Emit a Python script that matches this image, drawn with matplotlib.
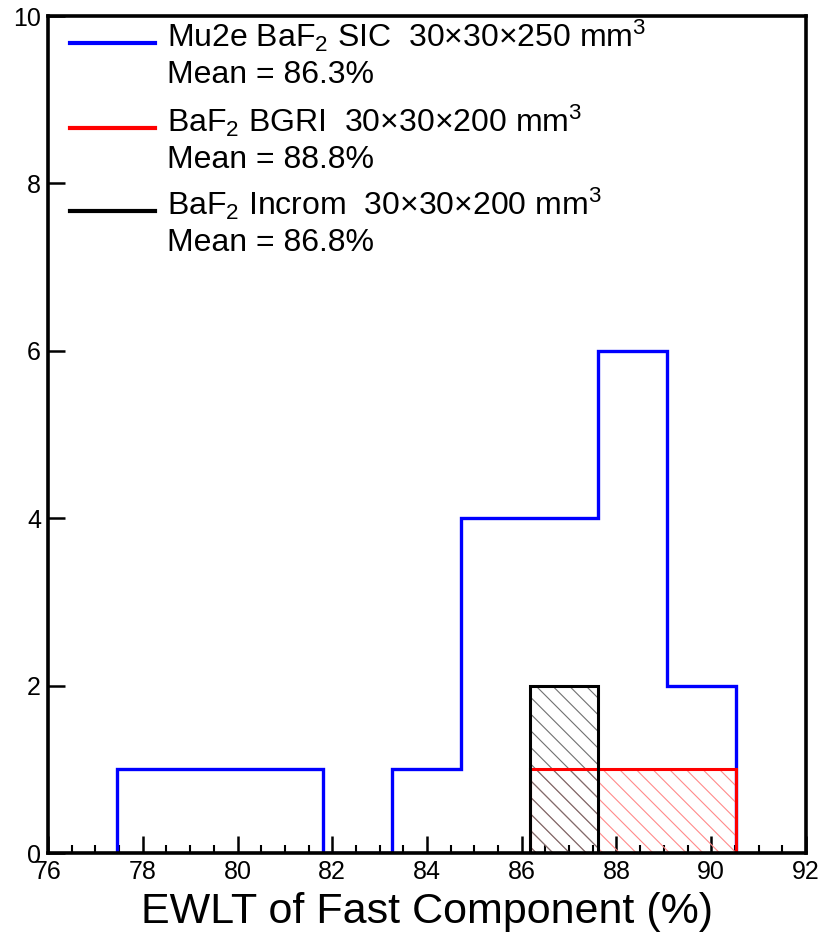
import matplotlib
matplotlib.use('Agg')
import matplotlib.pyplot as plt
import numpy as np
from matplotlib.ticker import MultipleLocator

plt.rcParams['font.family'] = ['Liberation Sans', 'DejaVu Sans']
plt.rcParams['mathtext.fontset'] = 'custom'
plt.rcParams['mathtext.rm'] = 'Liberation Sans'
plt.rcParams['mathtext.it'] = 'Liberation Sans:italic'
plt.rcParams['mathtext.bf'] = 'Liberation Sans:bold'
plt.rcParams['hatch.linewidth'] = 0.8

# Histogram bins of EWLT of the fast component (%)
bin_edges = [77.45, 78.90, 80.36, 81.81, 83.26, 84.72, 86.17, 87.62, 89.07, 90.53]
sic_counts = [1, 1, 1, 0, 1, 4, 4, 6, 2]
bgri_counts = [0, 0, 0, 0, 0, 0, 1, 1, 1]
incrom_counts = [0, 0, 0, 0, 0, 0, 2, 0, 0]

series_labels = [
    ('Mu2e BaF$_2$ SIC  30×30×250 mm$^3$', 'Mean = 86.3%'),
    ('BaF$_2$ BGRI  30×30×200 mm$^3$', 'Mean = 88.8%'),
    ('BaF$_2$ Incrom  30×30×200 mm$^3$', 'Mean = 86.8%'),
]
series_colors = ['#0000ff', '#ff0000', '#000000']
hatch_colors = [None, '#ff8a8a', '#707070']

x_ticks = [76, 78, 80, 82, 84, 86, 88, 90, 92]
y_ticks = [0, 2, 4, 6, 8, 10]

fig = plt.figure(figsize=(8.21, 9.43), dpi=100)
ax = fig.add_axes([0.0585, 0.0954, 0.9232, 0.8876])

edges = np.array(bin_edges)


def nonzero_range(counts):
    counts = np.asarray(counts)
    idx = np.nonzero(counts)[0]
    lo, hi = idx[0], idx[-1] + 1
    return counts[lo:hi], edges[lo:hi + 1]


# Blue outline histogram
ax.stairs(sic_counts, edges, fill=False, color=series_colors[0],
          linewidth=2.4, zorder=3)

# Hatched histograms
for counts, col, hcol in [(bgri_counts, series_colors[1], hatch_colors[1]),
                          (incrom_counts, series_colors[2], hatch_colors[2])]:
    vals, e = nonzero_range(counts)
    ax.stairs(vals, e, fill=True, facecolor='none', edgecolor=hcol,
              hatch='\\\\', linewidth=0, zorder=4)
    ax.stairs(vals, e, fill=False, color=col, linewidth=2.2, zorder=5)

ax.set_xlim(76, 92)
ax.set_ylim(0, 10)
ax.set_xticks(x_ticks)
ax.set_yticks(y_ticks)
ax.xaxis.set_minor_locator(MultipleLocator(0.5))
ax.tick_params(axis='both', which='major', direction='in', length=12,
               width=1.8, labelsize=18, top=False, right=False, pad=5)
ax.tick_params(axis='x', which='minor', direction='in', length=6,
               width=1.5, top=False)
for sp in ax.spines.values():
    sp.set_linewidth(2.6)
    sp.set_zorder(10)

ax.set_xlabel('EWLT of Fast Component (%)', fontsize=31, labelpad=6)

# Legend entries: handle line, label line and mean line
legend_line_y = [0.968, 0.866, 0.767]
legend_base_y = [0.963, 0.861, 0.762]
line_gap = 0.043
for (l1, l2), col, yl, yb in zip(series_labels, series_colors,
                                 legend_line_y, legend_base_y):
    ax.plot([0.029, 0.141], [yl, yl], transform=ax.transAxes, color=col,
            linewidth=3, clip_on=False, zorder=6)
    ax.text(0.157, yb, l1, transform=ax.transAxes, fontsize=23,
            va='baseline', ha='left')
    ax.text(0.157, yb - line_gap, l2, transform=ax.transAxes, fontsize=23,
            va='baseline', ha='left')

fig.savefig('out.png', dpi=100)
